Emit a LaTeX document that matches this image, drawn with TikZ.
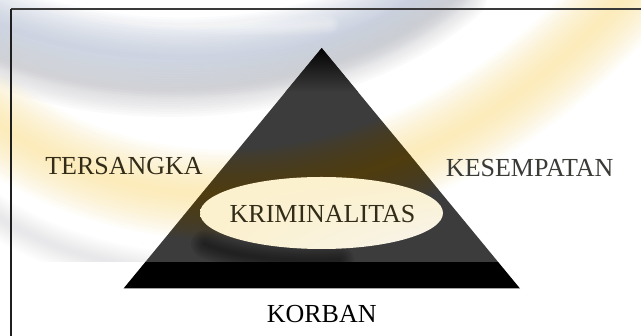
\documentclass[tikz,border=0pt]{standalone}
\usepackage{fontspec}
\usetikzlibrary{shadings}
\setmainfont{Liberation Serif}
\definecolor{bluesw}{RGB}{182,192,214}
\definecolor{graysw}{RGB}{185,185,190}
\definecolor{yelsw}{RGB}{252,228,150}
\definecolor{brownsw}{RGB}{95,68,0}
\definecolor{trigray}{RGB}{60,60,60}
\definecolor{creamA}{RGB}{252,241,205}
\definecolor{creamB}{RGB}{246,244,238}
\definecolor{txtA}{RGB}{50,44,24}
\definecolor{txtB}{RGB}{58,58,54}
\definecolor{bordtop}{RGB}{58,58,58}
\begin{document}
\begin{tikzpicture}[x=1pt,y=-1pt,
  lbl/.style={font=\fontsize{26}{26}\selectfont, inner sep=0pt, anchor=base},
  soft/.style={line cap=round, draw opacity=0.06}]
\useasboundingbox (0,0) rectangle (641,336);
\fill[white] (0,0) rectangle (641,336);
% watermark background
\begin{scope}
  \clip (0,0) rectangle (641,262);
  \foreach \w in {5,10,...,80}
    \draw[soft, bluesw, line width=\w pt] (-30,12) .. controls (100,78) and (330,78) .. (440,-25);
  \foreach \w in {5,10,...,55}
    \draw[soft, graysw, line width=\w pt] (-30,45) .. controls (100,115) and (330,105) .. (460,-5);
  \foreach \w in {3,6,...,18}
    \draw[soft, white, draw opacity=0.08, line width=\w pt] (40,-6) .. controls (110,20) and (230,32) .. (330,24);
  \foreach \w in {6,12,...,90}
    \draw[soft, yelsw, line width=\w pt] (-10,118) .. controls (150,240) and (420,230) .. (630,-10);
  \foreach \w in {5,10,...,40}
    \draw[soft, graysw, draw opacity=0.04, line width=\w pt] (-20,205) .. controls (40,248) and (100,262) .. (160,272);
\end{scope}
% triangle
\coordinate (A) at (321.7,48);
\coordinate (B) at (123.5,288.5);
\coordinate (C) at (520,288.5);
\begin{scope}
  \clip (A) -- (B) -- (C) -- cycle;
  \fill[trigray] (0,40) rectangle (641,262);
  \shade[top color=black, bottom color=trigray] (100,46) rectangle (540,92);
  \foreach \w in {6,12,...,90}
    \draw[soft, brownsw, draw opacity=0.07, line width=\w pt] (-10,118) .. controls (150,240) and (420,230) .. (630,-10);
  \foreach \w in {4,8,...,28}
    \draw[soft, black, draw opacity=0.07, line width=\w pt] (205,244) .. controls (240,260) and (300,262) .. (340,260);
  \fill[black] (0,262) rectangle (641,300);
\end{scope}
% ellipse
\shade[upper left=creamA, upper right=creamA, lower left=creamA, lower right=creamB]
  (321.5,213) ellipse [x radius=121.5pt, y radius=36pt];
% labels
\node[lbl, text=txtA] (ters) at (124,175) {TERSANGKA};
\node[lbl, text=txtB] (kes) at (529.7,177) {KESEMPATAN};
\node[lbl, text=txtA] (krim) at (322.5,223) {KRIMINALITAS};
\node[lbl, text=black] (korb) at (321.7,323) {KORBAN};
% border
\draw[bordtop, line width=1.6pt] (11,9) -- (641,9);
\draw[black!88, line width=1.4pt] (11,9) -- (11,336);
\end{tikzpicture}
\end{document}
